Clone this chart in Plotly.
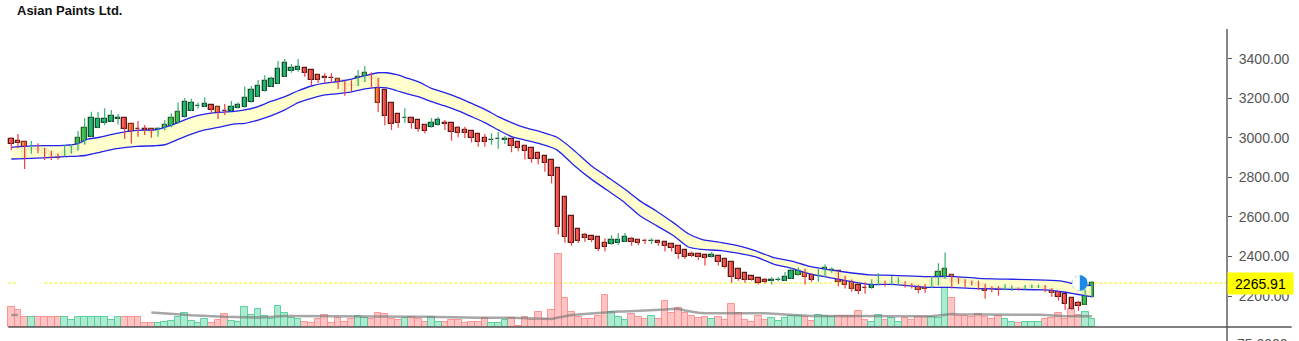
import numpy as np
import plotly.graph_objects as go

# ---- daily candles (INR) and traded volume (lakh shares) ----
opens = [2992, 2982, 2977, 2940, 2943, 2944, 2932, 2917, 2908, 2922,
         2937, 2967, 3006, 3051, 3073, 3082, 3096, 3099, 3068, 3047,
         3042, 3043, 3033, 3040, 3056, 3073, 3104, 3137, 3160, 3158,
         3164, 3154, 3137, 3137, 3149, 3154, 3179, 3208, 3235, 3259,
         3274, 3309, 3340, 3345, 3351, 3341, 3316, 3305, 3304, 3299,
         3286, 3265, 3264, 3284, 3306, 3301, 3240, 3174, 3119, 3099,
         3100, 3088, 3067, 3053, 3063, 3074, 3073, 3048, 3038, 3033,
         3018, 2997, 2989, 2994, 2991, 2992, 2977, 2960, 2947, 2922,
         2906, 2886, 2846, 2699, 2603, 2537, 2509, 2502, 2497, 2468,
         2462, 2470, 2475, 2489, 2482, 2477, 2477, 2477, 2472, 2462,
         2455, 2431, 2413, 2413, 2406, 2396, 2401, 2386, 2371, 2335,
         2315, 2300, 2290, 2281, 2277, 2280, 2278, 2288, 2305, 2320,
         2308, 2304, 2298, 2320, 2325, 2300, 2281, 2254, 2240, 2239,
         2256, 2268, 2267, 2265, 2268, 2261, 2254, 2246, 2241, 2256,
         2288, 2308, 2290, 2283, 2275, 2268, 2259, 2246, 2241, 2238,
         2237, 2241, 2234, 2241, 2243, 2244, 2238, 2222, 2209, 2189,
         2165, 2157, 2194]
highs = [3003, 3019, 2980, 2984, 2972, 2950, 2934, 2919, 2965, 2969,
         3035, 3099, 3132, 3131, 3149, 3141, 3120, 3101, 3070, 3085,
         3065, 3045, 3053, 3090, 3124, 3178, 3201, 3198, 3179, 3205,
         3166, 3156, 3171, 3186, 3178, 3259, 3262, 3292, 3316, 3309,
         3388, 3399, 3373, 3398, 3353, 3343, 3321, 3326, 3326, 3301,
         3288, 3291, 3343, 3363, 3331, 3303, 3242, 3176, 3121, 3149,
         3102, 3090, 3069, 3100, 3105, 3090, 3075, 3060, 3056, 3035,
         3020, 3019, 3023, 3030, 3011, 2997, 2979, 2962, 2949, 2924,
         2908, 2888, 2848, 2701, 2605, 2539, 2519, 2504, 2499, 2492,
         2507, 2519, 2519, 2499, 2490, 2490, 2492, 2479, 2474, 2464,
         2457, 2433, 2426, 2415, 2408, 2423, 2403, 2388, 2373, 2337,
         2317, 2302, 2292, 2291, 2295, 2295, 2322, 2345, 2345, 2340,
         2315, 2337, 2361, 2345, 2327, 2302, 2283, 2256, 2270, 2285,
         2315, 2278, 2302, 2295, 2275, 2264, 2256, 2261, 2302, 2366,
         2420, 2310, 2292, 2285, 2277, 2278, 2261, 2248, 2251, 2261,
         2254, 2243, 2256, 2258, 2258, 2256, 2240, 2224, 2211, 2191,
         2177, 2233, 2276]
lows = [2939, 2947, 2842, 2920, 2922, 2888, 2888, 2891, 2906, 2920,
        2935, 2965, 3004, 3049, 3065, 3080, 3067, 2994, 2971, 3006,
        3014, 3001, 3006, 3038, 3054, 3071, 3102, 3135, 3147, 3156,
        3124, 3095, 3115, 3135, 3147, 3152, 3177, 3206, 3233, 3257,
        3272, 3307, 3329, 3334, 3309, 3267, 3277, 3279, 3279, 3247,
        3213, 3235, 3262, 3282, 3252, 3131, 3062, 3040, 3051, 3075,
        3046, 3031, 3023, 3051, 3061, 3040, 2986, 3003, 2999, 2977,
        2955, 2955, 2965, 2945, 2969, 2927, 2932, 2891, 2874, 2866,
        2829, 2770, 2512, 2470, 2455, 2468, 2475, 2473, 2428, 2425,
        2460, 2458, 2473, 2455, 2458, 2463, 2463, 2455, 2426, 2426,
        2387, 2387, 2396, 2382, 2354, 2394, 2354, 2339, 2268, 2278,
        2268, 2278, 2258, 2265, 2258, 2275, 2276, 2286, 2303, 2258,
        2273, 2273, 2296, 2318, 2248, 2238, 2222, 2209, 2212, 2237,
        2254, 2248, 2254, 2254, 2244, 2238, 2214, 2217, 2239, 2254,
        2286, 2238, 2261, 2243, 2253, 2231, 2187, 2219, 2202, 2231,
        2224, 2229, 2232, 2239, 2241, 2219, 2197, 2177, 2131, 2130,
        2126, 2155, 2192]
closes = [2971, 2972, 2900, 2943, 2941, 2917, 2905, 2896, 2933, 2954,
          2997, 3048, 3099, 3094, 3094, 3109, 3098, 3043, 3029, 3045,
          3041, 3023, 3043, 3063, 3099, 3129, 3179, 3174, 3163, 3171,
          3141, 3119, 3135, 3158, 3166, 3201, 3240, 3262, 3286, 3297,
          3348, 3377, 3351, 3358, 3326, 3294, 3294, 3303, 3302, 3270,
          3238, 3263, 3306, 3326, 3296, 3174, 3109, 3070, 3073, 3101,
          3073, 3046, 3036, 3075, 3088, 3072, 3028, 3026, 3026, 2997,
          2981, 2977, 2991, 2996, 2993, 2960, 2950, 2932, 2895, 2891,
          2871, 2805, 2551, 2500, 2470, 2480, 2495, 2484, 2440, 2450,
          2482, 2483, 2500, 2475, 2470, 2476, 2479, 2467, 2452, 2443,
          2411, 2396, 2403, 2396, 2391, 2408, 2371, 2349, 2298, 2286,
          2283, 2283, 2268, 2270, 2279, 2282, 2295, 2325, 2334, 2298,
          2283, 2306, 2342, 2332, 2270, 2254, 2234, 2224, 2239, 2258,
          2276, 2266, 2270, 2275, 2258, 2249, 2229, 2234, 2274, 2322,
          2335, 2270, 2273, 2265, 2263, 2253, 2224, 2234, 2231, 2240,
          2238, 2233, 2244, 2251, 2244, 2232, 2214, 2194, 2162, 2136,
          2148, 2231, 2265.91]
volumes = [20.3, 17.0, 10.3, 10.3, 10.3, 10.3, 10.3, 10.3, 10.3, 7.0,
           10.3, 10.3, 10.3, 10.3, 10.3, 7.0, 10.3, 10.3, 10.3, 10.3,
           4.3, 4.3, 4.3, 5.3, 6.3, 10.3, 13.7, 6.3, 4.3, 8.0,
           4.3, 7.0, 13.0, 6.3, 5.3, 20.3, 12.0, 17.7, 11.0, 8.3,
           21.0, 13.7, 8.7, 7.7, 4.7, 3.7, 7.7, 11.7, 3.7, 8.7,
           5.3, 7.7, 10.7, 8.7, 7.7, 13.7, 12.7, 7.7, 7.0, 9.3,
           10.3, 7.7, 5.3, 9.7, 5.3, 5.3, 7.0, 7.0, 3.7, 5.0,
           5.0, 8.7, 3.7, 4.3, 7.0, 8.7, 1.0, 9.7, 7.0, 14.7,
           7.7, 17.0, 73.0, 28.7, 14.7, 9.7, 7.7, 7.7, 11.0, 31.7,
           15.0, 9.7, 7.0, 12.7, 10.3, 8.3, 11.0, 7.7, 26.0, 13.7,
           19.0, 13.7, 11.0, 8.7, 9.7, 7.7, 9.7, 7.0, 22.7, 13.7,
           7.0, 5.0, 11.0, 7.0, 8.7, 6.0, 8.7, 11.0, 11.0, 10.3,
           6.3, 11.7, 11.0, 10.3, 11.0, 11.0, 11.0, 15.7, 7.0, 4.7,
           11.7, 7.0, 8.7, 4.7, 9.3, 7.0, 10.3, 10.3, 10.3, 8.7,
           43.7, 28.7, 11.0, 11.0, 9.7, 13.0, 9.7, 7.7, 11.0, 7.7,
           5.3, 4.3, 4.7, 5.3, 5.3, 7.7, 8.7, 13.7, 7.7, 17.7,
           12.0, 15.3, 7.7]
volume_avg = [12.0, 12.0, None, None, None, None, None, None, None, None,
              None, None, None, None, None, None, None, None, None, None,
              None, 14.5, 14.2, 13.8, 13.3, 12.8, 12.3, 11.8, 11.3, 11.0,
              10.8, 10.5, 10.2, 10.0, 9.8, 9.7, 9.5, 9.5, 9.8, 10.3,
              10.8, 11.0, 11.0, 11.0, 11.0, 11.0, 11.0, 11.0, 11.0, 11.0,
              11.0, 11.0, 11.0, 11.0, 11.0, 11.0, 11.0, 10.8, 10.6, 10.3,
              10.3, 10.3, 10.2, 10.0, 9.8, 9.6, 9.4, 9.3, 9.3, 9.3,
              9.3, 9.3, 9.4, 9.5, 9.5, 9.3, 9.0, 8.7, 8.4, 8.2,
              8.0, 8.0, 9.5, 11.0, 12.0, 12.5, 13.0, 13.5, 14.0, 15.0,
              15.3, 15.5, 15.6, 15.8, 16.0, 16.3, 16.7, 17.0, 17.5, 18.0,
              18.3, 16.5, 15.0, 14.2, 13.8, 13.7, 13.7, 13.7, 13.7, 13.7,
              13.7, 13.7, 13.7, 13.7, 13.7, 13.0, 12.5, 12.0, 11.5, 11.2,
              11.0, 11.0, 11.0, 11.0, 10.9, 10.9, 10.8, 10.8, 10.7, 10.7,
              10.6, 10.6, 10.5, 10.5, 10.5, 10.5, 10.5, 10.5, 10.8, 11.5,
              12.5, 13.0, 12.8, 12.8, 12.8, 12.8, 12.8, 12.8, 12.8, 12.8,
              12.8, 12.8, 12.8, 12.5, 12.2, 12.0, 11.5, 11.0, 10.8, 10.8,
              10.8, 10.8, 10.8]

# ---- EMA band (upper / lower), sampled at these candle positions ----
band_idx = [0, 3, 8, 10, 11.3, 13.3, 15.8, 18.8, 21.5, 23,
            25, 27, 29, 31, 33.5, 35, 37, 39, 41, 43,
            45, 47, 49, 51, 53, 55, 56.3, 57.8, 59.5, 61,
            63, 65, 67, 69, 71, 73, 75, 77, 79.3, 81.8,
            84.3, 86.8, 89.3, 91.8, 94.3, 96.8, 99.3, 101.5, 103.5, 106.5,
            109.5, 111.5, 114.3, 117, 119.7, 124.7, 128.7, 132.2, 137.2, 140.7,
            145, 150, 155, 157.5, 159, 161, 162]
band_upper = [2952, 2959, 2962, 2971, 2992, 3003, 3023, 3038, 3040, 3053,
              3077, 3104, 3120, 3129, 3134, 3141, 3158, 3185, 3208, 3238,
              3262, 3276, 3284, 3297, 3314, 3329, 3329, 3319, 3300, 3284,
              3250, 3228, 3203, 3174, 3144, 3107, 3077, 3051, 3031, 3003,
              2939, 2863, 2804, 2745, 2680, 2628, 2570, 2515, 2487, 2470,
              2450, 2430, 2395, 2377, 2350, 2323, 2307, 2305, 2298, 2300,
              2290, 2285, 2281, 2276, 2264, 2254, 2254]
band_lower = [2893, 2896, 2905, 2908, 2912, 2927, 2945, 2957, 2960, 2965,
              2992, 3019, 3040, 3053, 3070, 3073, 3090, 3112, 3141, 3178,
              3200, 3217, 3223, 3232, 3247, 3255, 3252, 3238, 3221, 3208,
              3183, 3161, 3136, 3107, 3077, 3040, 3006, 2989, 2969, 2939,
              2863, 2795, 2736, 2677, 2605, 2555, 2505, 2448, 2436, 2430,
              2413, 2399, 2362, 2340, 2312, 2281, 2259, 2259, 2244, 2244,
              2238, 2234, 2231, 2222, 2214, 2202, 2197]

price_ticks = [2200, 2400, 2600, 2800, 3000, 3200, 3400]
title_text = "Asian Paints Ltd."
lower_pane_label = "75.0000"

# ---- derived arrays ----
o = np.array(opens, float)
h = np.array(highs, float)
l = np.array(lows, float)
c = np.array(closes, float)
v = np.array(volumes, float)
n = len(c)
idx = np.arange(n)
last_price = closes[-1]

up = c >= o
body_lo = np.minimum(o, c)
body_hi = np.maximum(o, c)
ub = np.interp(idx, band_idx, band_upper)
lb = np.interp(idx, band_idx, band_lower)
in_band = (body_lo <= ub) & (body_hi >= lb)

FONT = "Liberation Sans, Arial, sans-serif"
fig = go.Figure()

# volume histogram (bottom pane, primary y)
for mask, fill, edge in [(~up, "rgba(255,150,150,0.55)", "rgba(255,140,140,0.9)"),
                         (up, "rgba(120,220,180,0.6)", "rgba(80,205,150,0.9)")]:
    fig.add_trace(go.Bar(x=idx[mask], y=v[mask], width=1.0, yaxis="y",
                         marker=dict(color=fill, line=dict(color=edge, width=1)),
                         hoverinfo="skip"))
fig.add_trace(go.Scatter(x=idx, y=volume_avg, mode="lines", yaxis="y",
                         line=dict(color="rgba(120,120,120,0.65)", width=2.5),
                         connectgaps=False, hoverinfo="skip"))

# EMA band on the price axis
band_line = dict(color="rgb(35,35,235)", width=1.3, shape="spline", smoothing=0.6)
fig.add_trace(go.Scatter(x=band_idx, y=band_upper, mode="lines", yaxis="y2",
                         line=band_line, hoverinfo="skip"))
fig.add_trace(go.Scatter(x=band_idx, y=band_lower, mode="lines", yaxis="y2",
                         line=band_line, fill="tonexty",
                         fillcolor="rgba(255,255,200,0.9)", hoverinfo="skip"))

# wicks
for mask, col in [(~up, "#F03C3C"), (up, "#34B070")]:
    xs, ys = [], []
    for i in idx[mask]:
        xs += [i, i, None]
        ys += [l[i], h[i], None]
    fig.add_trace(go.Scatter(x=xs, y=ys, mode="lines", yaxis="y2",
                             line=dict(color=col, width=1.2), hoverinfo="skip"))

# candle bodies
body_styles = [
    (~up & ~in_band, "#F7645C", "#5A1A16"),
    (~up & in_band, "#FF8C42", "#7A3512"),
    (up & ~in_band, "#12BF6F", "#174A2D"),
    (up & in_band, "#3CCB45", "#2D5E1E"),
]
for mask, fill, edge in body_styles:
    if not mask.any():
        continue
    fig.add_trace(go.Bar(x=idx[mask], base=body_lo[mask],
                         y=np.maximum(body_hi[mask] - body_lo[mask], 1.5),
                         width=0.66, yaxis="y2",
                         marker=dict(color=fill, line=dict(color=edge, width=1.3)),
                         hoverinfo="skip"))

# ---- layout geometry ----
W, H = 1299, 341
plot_w, plot_h = 1227, 327
px_per_bar = 6.67
first_px = 11.3
x_lo = -first_px / px_per_bar
x_hi = (plot_w - first_px) / px_per_bar
units_per_px = 5.055
p_top = 3400 + 58.7 * units_per_px
p_bot = p_top - plot_h * units_per_px

shapes = []
# last-price dotted guide
for xa, xb in [(8.3, 15.7), (44.3, plot_w)]:
    shapes.append(dict(type="line", xref="paper", yref="y2",
                       x0=xa / plot_w, x1=xb / plot_w, y0=last_price, y1=last_price,
                       line=dict(color="#F2F200", width=1, dash="3px,2px"),
                       layer="below"))
# axis frame lines
shapes.append(dict(type="line", xref="paper", yref="paper",
                   x0=1, x1=1, y0=-(H - plot_h) / plot_h, y1=1 - 29 / plot_h,
                   line=dict(color="#555", width=1.4), layer="above"))
shapes.append(dict(type="line", xref="paper", yref="paper",
                   x0=8.3 / plot_w, x1=1291.7 / plot_w, y0=0, y1=0,
                   line=dict(color="#555", width=1.4), layer="above"))
# live-price badge near the last candle
marker_x = idx[-1] - 1.8
r = 7.7
shapes.append(dict(type="circle", xref="x", yref="y2", xsizemode="pixel",
                   ysizemode="pixel", xanchor=marker_x, yanchor=last_price,
                   x0=-r, x1=r, y0=-r, y1=r, fillcolor="white",
                   line=dict(color="rgba(120,170,230,0.6)", width=1, dash="dot"),
                   layer="above"))
t = np.linspace(-np.pi / 2, np.pi / 2, 25)
half = "M " + " L ".join(f"{r*np.cos(a):.2f},{r*np.sin(a):.2f}" for a in t) + " Z"
shapes.append(dict(type="path", xref="x", yref="y2", xsizemode="pixel",
                   ysizemode="pixel", xanchor=marker_x, yanchor=last_price,
                   path=half, fillcolor="#1E88E5", line=dict(width=0),
                   layer="above"))

annotations = [
    dict(text=f"<b>{title_text}</b>", xref="paper", yref="paper",
         x=15 / plot_w, y=1 - 11 / plot_h, xanchor="left", yanchor="middle",
         showarrow=False, font=dict(family=FONT, size=13, color="#111")),
    dict(text=f"{last_price:.2f}", xref="paper", yref="y2", x=1, y=last_price,
         xanchor="left", yanchor="middle", showarrow=False, bgcolor="#FFFF00",
         width=61, height=17, borderpad=2, align="center",
         font=dict(family=FONT, size=14, color="#000")),
    dict(text=lower_pane_label, xref="paper", yref="paper",
         x=1235 / plot_w, y=-(344 - plot_h) / plot_h, xanchor="left",
         yanchor="middle", showarrow=False,
         font=dict(family=FONT, size=14, color="#555")),
]

fig.update_layout(
    width=W, height=H, autosize=False,
    margin=dict(l=0, r=W - plot_w, t=0, b=H - plot_h, pad=0),
    paper_bgcolor="white", plot_bgcolor="white",
    showlegend=False, barmode="overlay", bargap=0,
    xaxis=dict(range=[x_lo, x_hi], visible=False, fixedrange=True),
    yaxis=dict(range=[0, plot_h], visible=False, fixedrange=True),
    yaxis2=dict(range=[p_bot, p_top], overlaying="y", side="right",
                showgrid=False, zeroline=False, showline=False,
                tickvals=price_ticks, ticktext=[f"{p:.2f}" for p in price_ticks],
                ticks="outside", ticklen=4, tickcolor="#555", tickwidth=1,
                ticklabelstandoff=4,
                tickfont=dict(family=FONT, size=14, color="#555"),
                fixedrange=True),
    shapes=shapes, annotations=annotations,
    font=dict(family=FONT),
)

fig.write_html("out.html")
